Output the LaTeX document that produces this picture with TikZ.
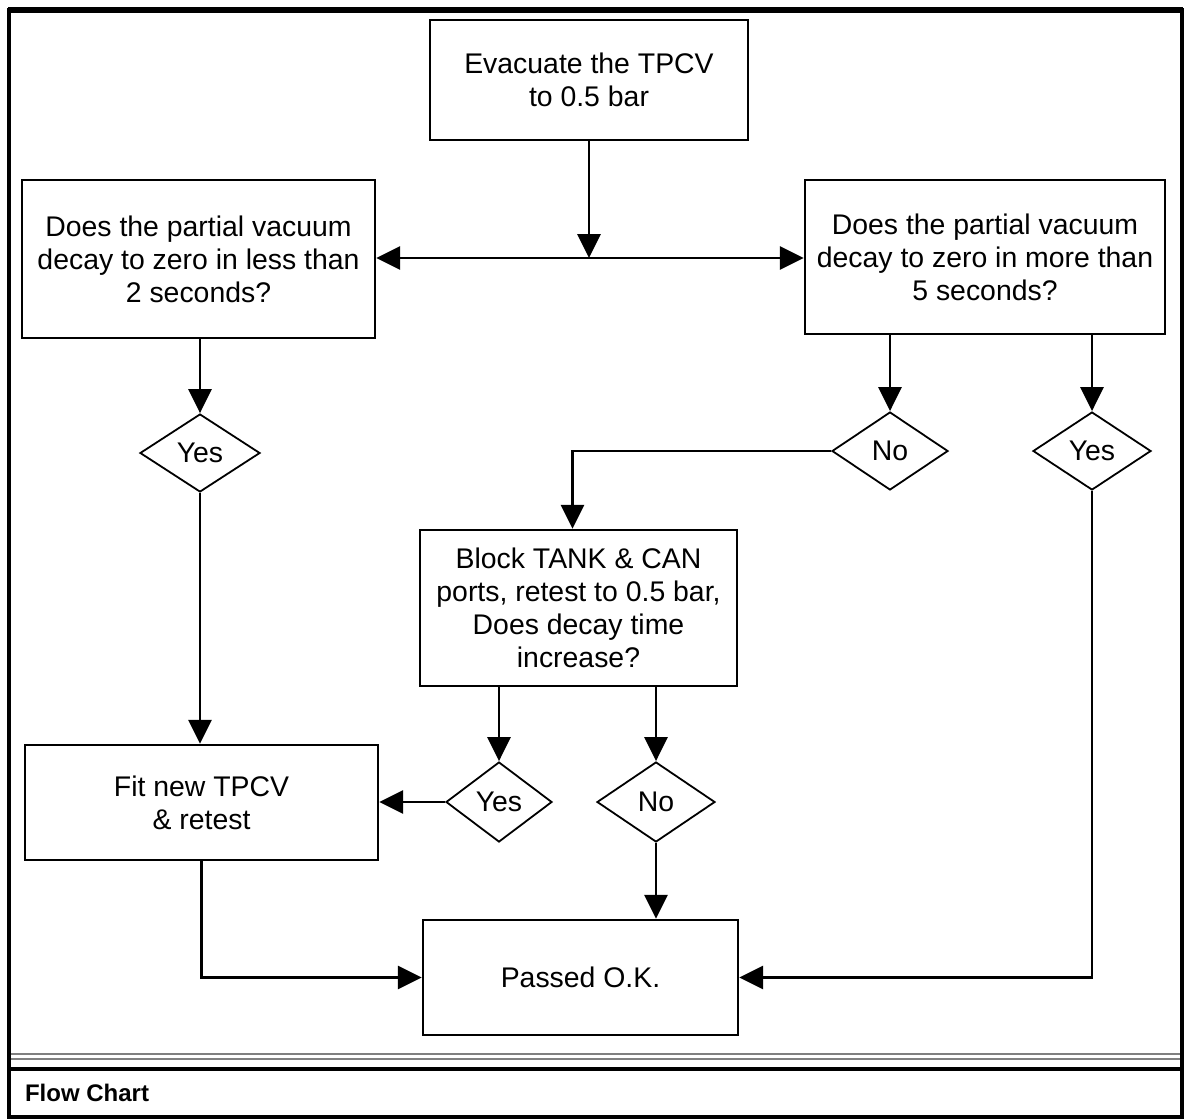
\documentclass[tikz,border=0pt]{standalone}
\usepackage{fontspec}
\setmainfont{Liberation Sans}
\usepackage{tikz}
\usetikzlibrary{arrows.meta,shapes.geometric}
\tikzset{>={Triangle[length=12pt,width=11.5pt]}}

\begin{document}
\begin{tikzpicture}[x=0.5pt,y=-0.5pt]
    \tikzstyle{stepbox}=[draw,line width=1.2pt,rectangle,align=center,inner sep=2pt,font=\fontsize{14.2}{16.5}\selectfont];
    \tikzstyle{decision}=[draw,line width=0.9pt,diamond,inner sep=0pt,aspect=1.5,minimum width=58pt,minimum height=39pt,font=\fontsize{14.2}{16.5}\selectfont];
    \tikzstyle{flow}=[line width=1.4pt];
    \useasboundingbox (0,0) rectangle (1190,1120);
    % frame and caption
    \draw[line width=2pt] (9,10) rectangle (1182,1117);
    \draw[line width=3pt] (8,10) -- (1183,10);
    \draw[gray,line width=0.6pt] (11,1054) -- (1180,1054);
    \draw[gray,line width=0.6pt] (11,1059) -- (1180,1059);
    \draw[line width=2pt] (9,1069) -- (1182,1069);
    \node[anchor=west,font=\fontsize{12}{14}\selectfont\bfseries] (caption) at (18,1093) {Flow Chart};
    % boxes
    \node[stepbox,minimum width=159pt,minimum height=60pt] (evac) at (589,80) {Evacuate the TPCV\\to 0.5 bar};
    \node[stepbox,minimum width=176.5pt,minimum height=79pt] (qless) at (198.5,259) {Does the partial vacuum\\decay to zero in less than\\2 seconds?};
    \node[stepbox,minimum width=180pt,minimum height=77pt] (qmore) at (985,257) {Does the partial vacuum\\decay to zero in more than\\5 seconds?};
    \node[decision,minimum width=60pt] (yesL) at (200,453) {Yes};
    \node[decision] (noR) at (890,451) {No};
    \node[decision,minimum width=59pt] (yesR) at (1092,451) {Yes};
    \node[stepbox,minimum width=158.5pt,minimum height=78pt] (block) at (578.5,608) {Block TANK \& CAN\\ports, retest to 0.5 bar,\\Does decay time\\increase?};
    \node[decision,minimum width=53pt,minimum height=40pt] (yesB) at (499,802) {Yes};
    \node[decision,minimum width=59pt,minimum height=40pt] (noB) at (656,802) {No};
    \node[stepbox,minimum width=176.5pt,minimum height=57.5pt] (fit) at (201.5,802.5) {Fit new TPCV\\\& retest};
    \node[stepbox,minimum width=157.5pt,minimum height=57.5pt] (pass) at (580.5,977.5) {Passed O.K.};
    % connectors
    \coordinate (split) at (589,258);
    \draw[flow,->] (evac.south) -- (split);
    \draw[flow,<->] (qless.east |- split) -- (qmore.west |- split);
    \draw[flow,->] (yesL |- qless.south) -- (yesL.north);
    \draw[flow,->] (noR |- qmore.south) -- (noR.north);
    \draw[flow,->] (yesR |- qmore.south) -- (yesR.north);
    \draw[flow,->] (noR.west) -| ([xshift=-3pt]block.north);
    \draw[flow,->] (yesB |- block.south) -- (yesB.north);
    \draw[flow,->] (noB |- block.south) -- (noB.north);
    \draw[flow,->] (yesB.west) -- (yesB.west -| fit.east);
    \draw[flow,->] (yesL.south) -- (yesL.south |- fit.north);
    \draw[flow,->] (noB.south) -- (noB.south |- pass.north);
    \draw[flow,->] (fit.south) |- (pass.west);
    \draw[flow,->] (yesR.south) |- (pass.east);
  \end{tikzpicture}
\end{document}
